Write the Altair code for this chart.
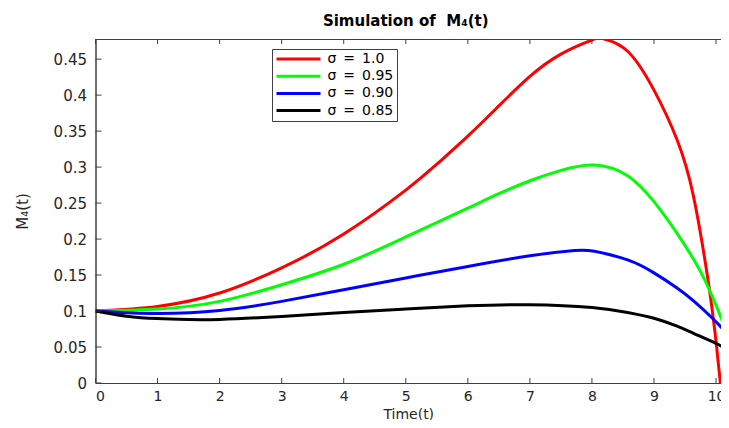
import altair as alt
import pandas as pd

labels = ["σ\u2002=\u20021.0", "σ\u2002=\u20020.95", "σ\u2002=\u20020.90", "σ\u2002=\u20020.85"]
colors = ["#ff0000", "#00ff00", "#0000ff", "#000000"]

t_red = [0, 1, 2, 3, 4, 5, 5.5, 6, 6.5, 7, 7.5, 8, 8.2, 8.575, 9, 9.372, 9.638, 9.85, 9.93, 10, 10.07, 10.15]
m_red = [0.1, 0.1064, 0.125, 0.160, 0.207, 0.268, 0.304, 0.343, 0.385, 0.426, 0.457, 0.4765, 0.478, 0.461, 0.407, 0.338, 0.259, 0.155, 0.107, 0.058, 0.0, -0.07]

t_green = [0, 1, 2, 3, 4, 5, 6, 6.5, 7, 7.5, 8.04, 8.575, 9, 9.372, 9.638, 9.82, 10, 10.12]
m_green = [0.1, 0.1027, 0.1134, 0.1365, 0.165, 0.203, 0.243, 0.263, 0.281, 0.2955, 0.303, 0.288, 0.252, 0.208, 0.172, 0.143, 0.108, 0.082]

t_blue = [0, 0.5, 1, 2, 3, 4, 5, 6, 7, 7.72, 8.04, 8.575, 9, 9.372, 9.638, 9.93, 10.12]
m_blue = [0.1, 0.0975, 0.0965, 0.1009, 0.1134, 0.1296, 0.146, 0.162, 0.1768, 0.184, 0.183, 0.171, 0.153, 0.132, 0.114, 0.091, 0.074]

t_black = [0, 0.5, 1, 1.5, 2, 3, 4, 5, 6, 7, 8, 8.575, 9, 9.372, 9.638, 10, 10.12]
m_black = [0.1, 0.0928, 0.0895, 0.0882, 0.0884, 0.0925, 0.0978, 0.1027, 0.1072, 0.1088, 0.105, 0.098, 0.090, 0.079, 0.069, 0.055, 0.049]

x_ticks = [0, 1, 2, 3, 4, 5, 6, 7, 8, 9, 10]
y_ticks = [0, 0.05, 0.1, 0.15, 0.2, 0.25, 0.3, 0.35, 0.4, 0.45]

rows = []
for lab, ts, ms in zip(labels, [t_red, t_green, t_blue, t_black], [m_red, m_green, m_blue, m_black]):
    for t, m in zip(ts, ms):
        rows.append({"t": t, "M": m, "s": lab})
df = pd.DataFrame(rows)

W, H = 625.5, 344
AX = "#404040"
TXT = "#262626"
FONT = "DejaVu Sans"

xs = alt.Scale(domain=[0, 10.08], nice=False, zero=False)
ys = alt.Scale(domain=[0, 0.478], nice=False, zero=False)

x_axis = alt.Axis(
    values=x_ticks, format="d", title="Time(t)", ticks=False, tickSize=0, grid=False,
    labelPadding=6, labelFont=FONT, labelFontSize=14, labelColor=TXT,
    domainColor=AX, titleFont=FONT, titleFontSize=14, titleFontWeight="normal",
    titleColor=TXT, titleY=35, titleBaseline="alphabetic")
y_axis = alt.Axis(
    values=y_ticks, format="~g", title="M₄(t)", ticks=False, tickSize=0, grid=False,
    labelPadding=9, labelFont=FONT, labelFontSize=15, labelColor=TXT,
    domainColor=AX, titleFont=FONT, titleFontSize=15, titleFontWeight="normal",
    titleColor=TXT, titleX=-68.5, titleY=H / 2, titleAngle=-90,
    titleAlign="center", titleBaseline="alphabetic")

lines = alt.Chart(df).mark_line(strokeWidth=3, interpolate="natural", clip=True).encode(
    x=alt.X("t:Q", scale=xs, axis=x_axis),
    y=alt.Y("M:Q", scale=ys, axis=y_axis),
    color=alt.Color("s:N", scale=alt.Scale(domain=labels, range=colors), legend=alt.Legend(
        title=None, orient="none", legendX=176.5, legendY=10,
        symbolType="M-4,0H4", symbolSize=121, symbolStrokeWidth=3, symbolOffset=16.5,
        labelOffset=22, labelFont=FONT, labelFontSize=14, labelColor="#000",
        padding=3, rowPadding=3.2, strokeColor=AX, fillColor="white")),
)

xt = pd.DataFrame({"t": x_ticks})
yt = pd.DataFrame({"M": y_ticks})

bottom_ticks = alt.Chart(xt).mark_rule(color=AX, strokeWidth=1).encode(
    x=alt.X("t:Q", scale=xs, axis=x_axis), y=alt.value(H), y2=alt.value(H - 5))
top_ticks = alt.Chart(xt).mark_rule(color=AX, strokeWidth=1).encode(
    x=alt.X("t:Q", scale=xs, axis=x_axis), y=alt.value(0), y2=alt.value(5))
left_ticks = alt.Chart(yt).mark_rule(color=AX, strokeWidth=1).encode(
    y=alt.Y("M:Q", scale=ys, axis=y_axis), x=alt.value(0), x2=alt.value(6))

chart = alt.layer(lines, bottom_ticks, top_ticks, left_ticks).properties(
    width=W, height=H,
    title=alt.TitleParams("Simulation of \u00a0M₄(t)", font=FONT, fontSize=15, fontWeight="bold",
                          color="#000", anchor="middle", frame="group", offset=10, dx=-2.5),
    autosize=alt.AutoSizeParams(type="none"),
    padding={"left": 87.5, "top": 31, "right": 0, "bottom": 37},
    background="white",
).configure_view(stroke=AX, strokeWidth=1)

chart.save("out.html", embed_options={"renderer": "svg", "actions": False})
